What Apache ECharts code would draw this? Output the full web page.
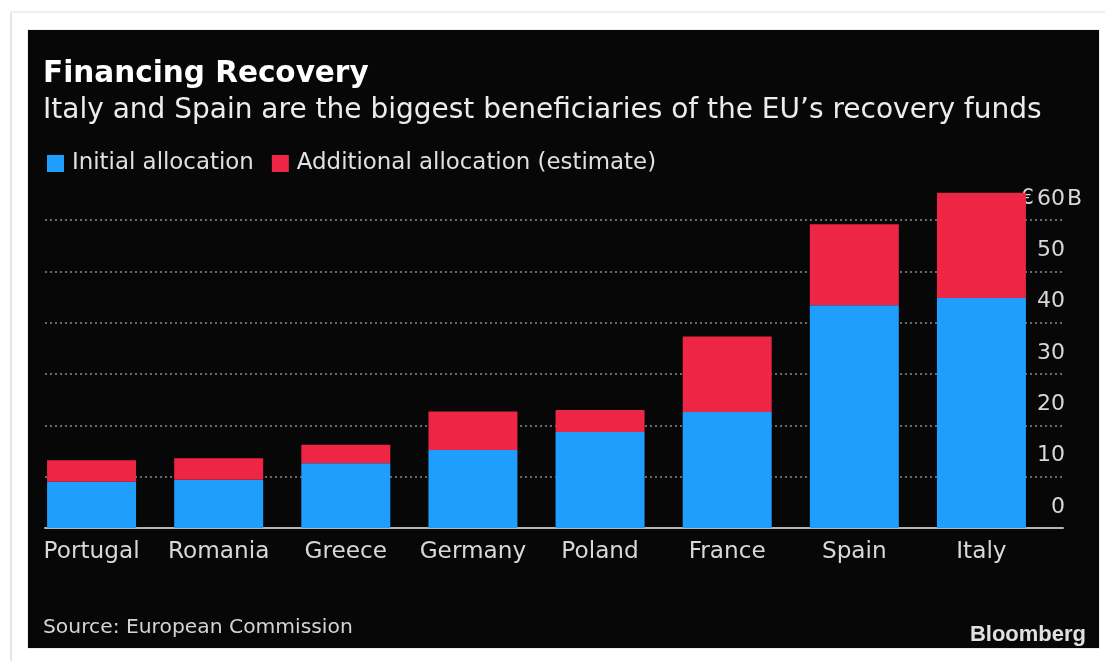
<!DOCTYPE html>
<html>
<head>
<meta charset="utf-8">
<script src="https://cdn.jsdelivr.net/npm/echarts@6/dist/echarts.min.js"></script>
<style>
html,body{margin:0;padding:0;background:#fff;width:1105px;height:661px;overflow:hidden;}
#frame{position:absolute;left:10px;top:11px;width:1100px;height:660px;border-left:2px solid #e6e6e6;border-top:2px solid #efefef;}
#chart{position:absolute;left:28px;top:30px;width:1071px;height:618px;background:#070707;box-shadow:0 0 1px #888;}
</style>
</head>
<body>
<div id="frame"></div>
<div id="chart"></div>
<script>
const categories = ['Portugal','Romania','Greece','Germany','Poland','France','Spain','Italy'];
const initialAllocation = [9.0, 9.4, 12.6, 15.2, 18.7, 22.6, 43.4, 44.8];
const additionalAllocation = [4.2, 4.2, 3.6, 7.5, 4.3, 14.7, 15.8, 20.5];
const yTicks = [0, 10, 20, 30, 40, 50, 60];

const FONT = 'DejaVu Sans';
const chart = echarts.init(document.getElementById('chart'), null, {renderer:'canvas'});
const y0 = 498, pxPerUnit = 5.133;
const LBL = '#d8d8d8';

chart.setOption({
  backgroundColor: '#070707',
  animation: false,
  title: [
    {text: 'Financing Recovery', left: 15, top: 29, padding: 0,
     textStyle: {color: '#ffffff', fontFamily: FONT, fontWeight: 'bold', fontSize: 29.5}},
    {text: 'Italy and Spain are the biggest beneficiaries of the EU\u2019s recovery funds', left: 15, top: 67, padding: 0,
     textStyle: {color: '#ececec', fontFamily: FONT, fontWeight: 'normal', fontSize: 28}},
    {text: 'Source: European Commission', left: 15, top: 588, padding: 0,
     textStyle: {color: '#d4d4d4', fontFamily: FONT, fontWeight: 'normal', fontSize: 20.3}},
    {text: 'Bloomberg', right: 13, top: 594, padding: 0,
     textStyle: {color: '#e0e0e0', fontFamily: 'Liberation Sans', fontWeight: 'bold', fontSize: 22}}
  ],
  legend: {
    left: 14, top: 117, icon: 'rect', itemWidth: 17, itemHeight: 17, itemGap: 18,
    textStyle: {color: '#e0e0e0', fontFamily: FONT, fontSize: 22.9, padding: [0,0,0,3]},
    data: ['Initial allocation', 'Additional allocation (estimate)']
  },
  grid: [
    {left: -1, width: 1018, top: y0 - 70*pxPerUnit, height: 70*pxPerUnit},
    {left: 17, width: 1018, top: y0 - 60*pxPerUnit, height: 60*pxPerUnit}
  ],
  xAxis: [
    {type: 'category', gridIndex: 0, data: categories,
     axisLine: {show: false}, axisTick: {show: false},
     axisLabel: {interval: 0, color: LBL, fontFamily: FONT, fontSize: 23.2, margin: 12}},
    {type: 'category', gridIndex: 1, data: [''],
     axisLine: {show: true, lineStyle: {color: '#b4b4b4', width: 2}},
     axisTick: {show: false}, axisLabel: {show: false}}
  ],
  yAxis: [
    {type: 'value', gridIndex: 0, min: 0, max: 70, show: false},
    {type: 'value', gridIndex: 1, min: 0, max: 60, interval: 10, position: 'right',
     axisLine: {show: false}, axisTick: {show: false},
     splitLine: {show: true, lineStyle: {color: '#8a8a8a', type: [2, 3], width: 1.5}},
     axisLabel: {inside: true, margin: -19, color: LBL, fontFamily: FONT, fontSize: 22,
       verticalAlign: 'bottom', padding: [0,0,10,0],
       formatter: v => v === yTicks[yTicks.length-1] ? '{e|\u20ac}' + v + '{b|B}' : v + '{h|B}',
       rich: {e: {fontFamily: FONT, fontSize: 21, color: LBL, padding: [0,3,0,0]},
              b: {fontFamily: FONT, fontSize: 22, color: LBL, padding: [0,0,0,2]},
              h: {fontFamily: FONT, fontSize: 22, color: 'rgba(0,0,0,0)', padding: [0,0,0,2]}}}}
  ],
  series: [
    {name: 'Initial allocation', type: 'bar', stack: 'total', xAxisIndex: 0, yAxisIndex: 0,
     data: initialAllocation, barCategoryGap: '30%', itemStyle: {color: '#1f9efd'}},
    {name: 'Additional allocation (estimate)', type: 'bar', stack: 'total', xAxisIndex: 0, yAxisIndex: 0,
     data: additionalAllocation, barCategoryGap: '30%', itemStyle: {color: '#ee2545'}}
  ]
});
</script>
</body>
</html>
